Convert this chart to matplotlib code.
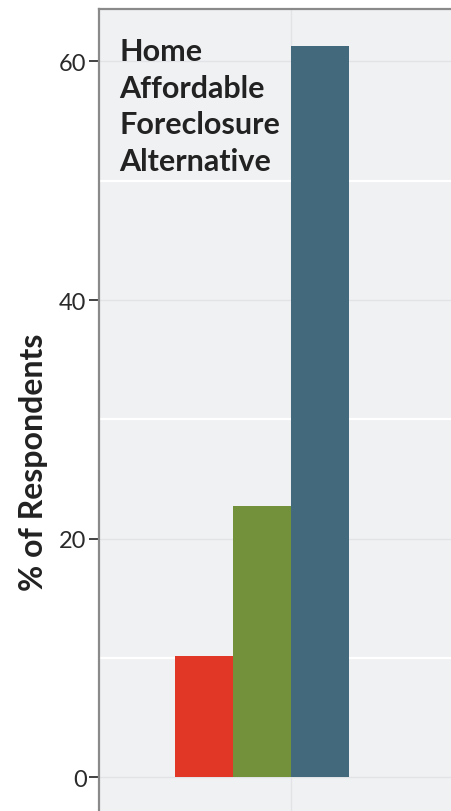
import matplotlib.pyplot as plt
from matplotlib.ticker import MultipleLocator

plt.rcParams['font.family'] = ['Lato', 'DejaVu Sans']

# share of respondents per answer, one group
series = ['A', 'B', 'C']
values = [10.2, 22.7, 61.3]
offsets = [-1.5, -0.5, 0.5]
colors = ['#e13726', '#73913b', '#436a7c']
title = 'Home\nAffordable\nForeclosure\nAlternative'

fig = plt.figure(figsize=(4.51, 8.12), dpi=100)
ax = fig.add_axes([99 / 451, 0, 1 - 99 / 451, 1 - 10 / 812])
ax.set_facecolor('#f0f1f3')

ax.bar(offsets, values, width=1.0, color=colors, zorder=3)

ax.set_ylim(-2.83, 64.4)
ax.set_xlim(-3.31, 2.76)

ax.yaxis.set_major_locator(MultipleLocator(20))
ax.yaxis.set_minor_locator(MultipleLocator(10))
ax.grid(which='major', axis='y', color='#e2e3e6', linewidth=1.0, zorder=1)
ax.grid(which='minor', axis='y', color='#ffffff', linewidth=1.6, zorder=1)
ax.set_xticks([0])
ax.grid(which='major', axis='x', color='#e2e3e6', linewidth=1.0, zorder=1)
ax.tick_params(axis='x', length=0, labelbottom=False)
ax.tick_params(axis='y', which='major', length=7, width=1.2, color='#222222',
               pad=2, labelsize=17, labelcolor='#2a2a2a')
ax.tick_params(axis='y', which='minor', length=0)

for side in ['right', 'bottom']:
    ax.spines[side].set_visible(False)
for side in ['left', 'top']:
    ax.spines[side].set_color('#8a8a8a')
    ax.spines[side].set_linewidth(1.6)

ax.set_ylabel('% of Respondents', fontsize=23, fontweight='bold',
              color='#222222')
ax.yaxis.set_label_coords(-0.145, 0.436)

ax.text(0.057, 0.965, title, transform=ax.transAxes, ha='left', va='top',
        fontsize=22, fontweight='bold', color='#222222', linespacing=1.37,
        zorder=4)

fig.savefig('out.png', dpi=100)
